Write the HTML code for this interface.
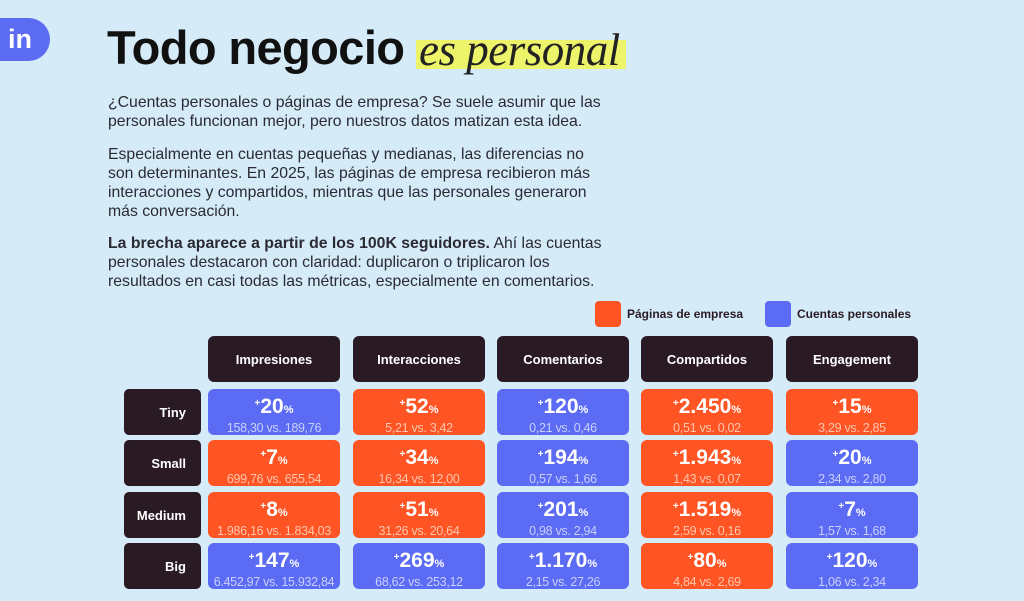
<!DOCTYPE html>
<html><head><meta charset="utf-8"><style>
*{margin:0;padding:0;box-sizing:border-box}
body{width:1024px;height:601px;background:#d5ebf8;position:relative;overflow:hidden;font-family:"Liberation Sans",sans-serif;color:#2a1a24}
.abs{position:absolute}
.logo{left:-8px;top:18px;width:58px;height:43px;background:#5b6bf2;border-radius:0 22px 22px 0;color:#fff;font-weight:bold;font-size:27px;padding-left:16px;line-height:42px}
h1{position:absolute;left:107px;top:20px;font-size:47px;font-weight:bold;letter-spacing:-0.6px;color:#111}
.hl{position:absolute;left:416px;top:40px;width:210px;height:29px;background:#eef46a}
.it{position:absolute;left:419px;top:24px;font-family:"Liberation Serif",serif;font-style:italic;font-size:45px;color:#222;letter-spacing:-0.5px}
.p{position:absolute;left:108px;font-size:15.8px;line-height:19px;white-space:nowrap;letter-spacing:0px;color:#2a2a33}
.sq{width:26px;height:26px;border-radius:4px}
.lt{font-size:12px;font-weight:bold;color:#2a1a24}
.hd{background:#2a1a24;color:#fff;border-radius:6px;font-size:13px;font-weight:bold;display:flex;align-items:center;justify-content:center}
.rl{background:#2a1a24;color:#fff;border-radius:5px;font-size:13px;font-weight:bold;text-align:right;padding-right:15px;display:flex;align-items:center;justify-content:flex-end}
.c{border-radius:6px;color:#fff;text-align:center}
.b{background:#5b6bf3}.o{background:#ff5424}
.c .n{font-size:21px;font-weight:bold;line-height:22px;margin-top:4px}
.c .n sup{font-size:10px;vertical-align:7px}
.c .n small{font-size:11px}
.c .s{font-size:12.5px;line-height:15px;letter-spacing:-0.3px}
.b .s{color:#c9d0fb}.o .s{color:#ffc6ad}
</style></head><body>
<div class="abs logo">in</div>
<div class="hl"></div>
<h1>Todo negocio</h1>
<div class="it">es personal</div>
<div class="p" style="top:93px">¿Cuentas personales o páginas de empresa? Se suele asumir que las<br>personales funcionan mejor, pero nuestros datos matizan esta idea.</div>
<div class="p" style="top:145px">Especialmente en cuentas pequeñas y medianas, las diferencias no<br>son determinantes. En 2025, las páginas de empresa recibieron más<br>interacciones y compartidos, mientras que las personales generaron<br>más conversación.</div>
<div class="p" style="top:234px"><b>La brecha aparece a partir de los 100K seguidores.</b> Ahí las cuentas<br>personales destacaron con claridad: duplicaron o triplicaron los<br>resultados en casi todas las métricas, especialmente en comentarios.</div>
<div class="abs sq o" style="left:595px;top:301px"></div>
<div class="abs lt" style="left:627px;top:307px">Páginas de empresa</div>
<div class="abs sq b" style="left:765px;top:301px"></div>
<div class="abs lt" style="left:797px;top:307px">Cuentas personales</div>
<div id="g"></div>
<script>
var cols=[208,353,497,641,786],heads=["Impresiones","Interacciones","Comentarios","Compartidos","Engagement"];
var rows=[389,440,492,543],names=["Tiny","Small","Medium","Big"];
var d=[
[["b","20","158,30 vs. 189,76"],["o","52","5,21 vs. 3,42"],["b","120","0,21 vs. 0,46"],["o","2.450","0,51 vs. 0,02"],["o","15","3,29 vs. 2,85"]],
[["o","7","699,76 vs. 655,54"],["o","34","16,34 vs. 12,00"],["b","194","0,57 vs. 1,66"],["o","1.943","1,43 vs. 0,07"],["b","20","2,34 vs. 2,80"]],
[["o","8","1.986,16 vs. 1.834,03"],["o","51","31,26 vs. 20,64"],["b","201","0,98 vs. 2,94"],["o","1.519","2,59 vs. 0,16"],["b","7","1,57 vs. 1,68"]],
[["b","147","6.452,97 vs. 15.932,84"],["b","269","68,62 vs. 253,12"],["b","1.170","2,15 vs. 27,26"],["o","80","4,84 vs. 2,69"],["b","120","1,06 vs. 2,34"]]];
var h="";
cols.forEach(function(x,i){h+='<div class="abs hd" style="left:'+x+'px;top:336px;width:132px;height:46px">'+heads[i]+'</div>';});
rows.forEach(function(y,r){
h+='<div class="abs rl" style="left:124px;top:'+y+'px;width:77px;height:46px">'+names[r]+'</div>';
cols.forEach(function(x,i){var c=d[r][i];
h+='<div class="abs c '+c[0]+'" style="left:'+x+'px;top:'+y+'px;width:132px;height:46px"><div class="n"><sup>+</sup>'+c[1]+'<small>%</small></div><div class="s">'+c[2]+'</div></div>';});});
document.getElementById("g").innerHTML=h;
</script>
</body></html>
